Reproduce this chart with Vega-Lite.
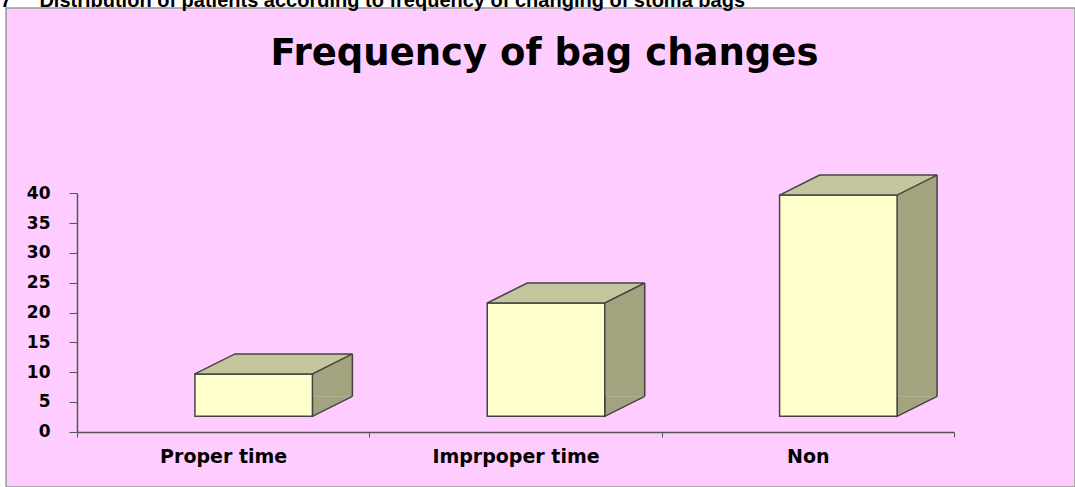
{
  "$schema": "https://vega.github.io/schema/vega-lite/v6.json",
  "width": 1069,
  "height": 479,
  "autosize": {"type": "none"},
  "padding": {"left": 6, "top": 8, "right": 0, "bottom": 0},
  "background": "#FFFFFF",
  "config": {
    "view": {"fill": "#FFCCFF", "stroke": "#999999", "strokeWidth": 1.5}
  },
  "title": {
    "text": "Frequency of bag changes",
    "anchor": "middle",
    "frame": "group",
    "font": "DejaVu Sans",
    "fontSize": 37,
    "fontWeight": "bold",
    "color": "#000000",
    "baseline": "alphabetic",
    "offset": -111,
    "dx": 4
  },
  "data": {
    "values": [
      {"category": "Proper time", "value": 9.7},
      {"category": "Imprpoper time", "value": 21.6},
      {"category": "Non", "value": 39.7}
    ]
  },
  "encoding": {
    "x": {
      "field": "category",
      "type": "nominal",
      "sort": null,
      "scale": {"range": [71, 948], "paddingInner": 0, "paddingOuter": 0},
      "axis": {
        "orient": "bottom",
        "offset": -55,
        "title": null,
        "labelAngle": 0,
        "labelFont": "DejaVu Sans",
        "labelFontWeight": "bold",
        "labelFontSize": 19,
        "labelColor": "#000000",
        "labelPadding": 10,
        "tickBand": "extent",
        "tickSize": 5,
        "tickColor": "#555555",
        "domainColor": "#555555",
        "domainWidth": 1.5,
        "grid": false
      }
    }
  },
  "layer": [
    {
      "mark": {"type": "bar", "width": 40, "xOffset": 109.25, "yOffset": -20, "y2Offset": -35.4, "fill": "#A3A380", "strokeWidth": 0},
      "encoding": {
        "y": {
          "field": "value",
          "type": "quantitative",
          "scale": {"domain": [0, 40], "range": [423.7, 185.3], "nice": false, "zero": true},
          "axis": {
            "orient": "left",
            "offset": -71,
            "values": [0, 5, 10, 15, 20, 25, 30, 35, 40],
            "grid": false,
            "domainColor": "#555555",
            "domainWidth": 1.5,
            "tickColor": "#555555",
            "tickSize": 8,
            "labelFont": "DejaVu Sans",
            "labelFontWeight": "bold",
            "labelFontSize": 17,
            "labelColor": "#000000",
            "labelPadding": 19,
            "title": "7\u00a0\u00a0\u00a0\u00a0\u00a0Distribution of patients according to frequency of changing of stoma bags",
            "titleAngle": 0,
            "titleAlign": "left",
            "titleBaseline": "alphabetic",
            "titleX": -77,
            "titleY": -1.5,
            "titleFont": "Liberation Sans",
            "titleFontSize": 20,
            "titleFontWeight": "bold",
            "titleColor": "#000000"
          }
        },
        "y2": {"datum": 0}
      }
    },
    {
      "mark": {"type": "point", "shape": "M0,-20L0,0L40,-20", "size": 4, "filled": true, "opacity": 1, "fill": "#A3A380", "stroke": "#444444", "strokeWidth": 1.5, "xOffset": 89.25, "yOffset": -15.4},
      "encoding": {
        "y": {"datum": 0, "type": "quantitative"}
      }
    },
    {
      "mark": {"type": "rule", "xOffset": 129.25, "yOffset": -20, "y2Offset": -35.4, "stroke": "#444444", "strokeWidth": 1.5},
      "encoding": {
        "y": {"field": "value", "type": "quantitative"},
        "y2": {"datum": 0}
      }
    },
    {
      "mark": {"type": "bar", "width": 117.5, "xOffset": 30.5, "y2Offset": -15.4, "fill": "#FFFFCC", "stroke": "#444444", "strokeWidth": 1.5},
      "encoding": {
        "y": {"field": "value", "type": "quantitative"},
        "y2": {"datum": 0}
      }
    },
    {
      "mark": {"type": "point", "shape": "M-58.75,0L58.75,0L98.75,-20L-18.75,-20Z", "size": 4, "filled": true, "opacity": 1, "fill": "#C6C69E", "stroke": "#444444", "strokeWidth": 1.5, "xOffset": 30.5},
      "encoding": {
        "y": {"field": "value", "type": "quantitative"}
      }
    }
  ]
}
